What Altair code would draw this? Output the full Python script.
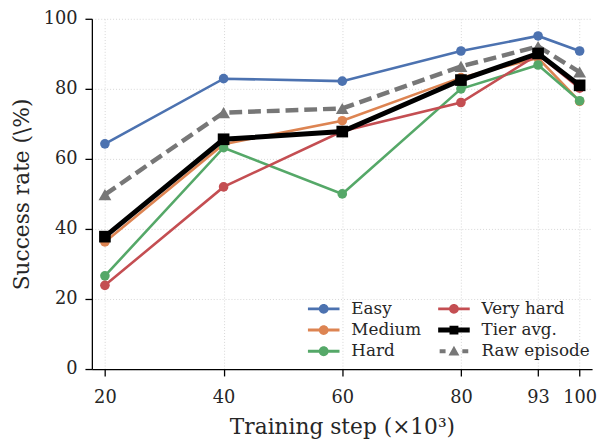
import altair as alt
import pandas as pd

# ---- data ----
steps = [20, 40, 60, 80, 93, 100]
easy = [64.3, 82.9, 82.2, 90.8, 95.1, 90.8]
medium = [36.3, 64.2, 70.9, 83.2, 88.8, 76.4]
hard = [26.6, 63.2, 50.0, 80.0, 86.8, 76.6]
very_hard = [23.9, 52.0, 67.9, 76.1, 89.8, 80.2]
tier_avg = [37.8, 65.6, 67.8, 82.5, 90.1, 81.0]
raw_episode = [49.8, 73.2, 74.4, 86.4, 92.1, 84.8]

series_names = ["Easy", "Medium", "Hard", "Very hard", "Tier avg.", "Raw episode"]
series_values = [easy, medium, hard, very_hard, tier_avg, raw_episode]
x_ticks = [20, 40, 60, 80, 93, 100]
y_ticks = [0, 20, 40, 60, 80, 100]

# ---- styles ----
colors = {"Easy": "#4C72B0", "Medium": "#DD8452", "Hard": "#55A868",
          "Very hard": "#C44E52", "Tier avg.": "#000000", "Raw episode": "#777777"}
line_w = {"Easy": 2.6, "Medium": 2.6, "Hard": 2.6, "Very hard": 2.6,
          "Tier avg.": 5, "Raw episode": 4.5}
shapes = {"Easy": "circle", "Medium": "circle", "Hard": "circle", "Very hard": "circle",
          "Tier avg.": "square", "Raw episode": "triangle-up"}
sizes = {"Easy": 95, "Medium": 95, "Hard": 95, "Very hard": 95,
         "Tier avg.": 140, "Raw episode": 170}
draw_order = ["Easy", "Medium", "Hard", "Very hard", "Raw episode", "Tier avg."]

circ_path = ("M-1.6,-0.15H-0.4V0.15H-1.6Z M0.4,-0.15H1.6V0.15H0.4Z "
             "M-0.5,0A0.5,0.5 0 1,1 0.5,0A0.5,0.5 0 1,1 -0.5,0Z")
sq_path = "M-1.6,-0.25H1.6V0.25H-1.6Z M-0.45,-0.45H0.45V0.45H-0.45Z"
tri_path = ("M-1.45,-0.2H-0.85V0.2H-1.45Z M0.85,-0.2H1.45V0.2H0.85Z "
            "M0,-0.55L0.55,0.42L-0.55,0.42Z")
legend_paths = {"Easy": circ_path, "Medium": circ_path, "Hard": circ_path,
                "Very hard": circ_path, "Tier avg.": sq_path, "Raw episode": tri_path}
legend_order = series_names

rows = []
for name, vals in zip(series_names, series_values):
    for s, v in zip(steps, vals):
        rows.append({"step": s, "value": v, "series": name})
df = pd.DataFrame(rows)

x_enc = alt.X("step:Q",
              scale=alt.Scale(domain=[17.8, 102.1], nice=False, zero=False),
              axis=alt.Axis(values=x_ticks, format="d", labelFlush=False, labelOverlap=False,
                            title="Training step (×10³)"))
y_enc = alt.Y("value:Q",
              scale=alt.Scale(domain=[0, 100], nice=False),
              axis=alt.Axis(values=y_ticks, format="d", title="Success rate (\\%)"))

base = alt.Chart(df)
layers = []
for name in draw_order:
    sub = base.transform_filter(alt.datum.series == name)
    mk = dict(color=colors[name], strokeWidth=line_w[name])
    if name == "Raw episode":
        mk["strokeDash"] = [13, 6]
    layers.append(sub.mark_line(**mk).encode(x=x_enc, y=y_enc))
    layers.append(sub.mark_point(filled=True, opacity=1, shape=shapes[name],
                                 size=sizes[name], color=colors[name]).encode(x=x_enc, y=y_enc))

leg = alt.Legend(title=None, orient="none", legendX=225, legendY=284, columns=2,
                 symbolSize=400, symbolStrokeWidth=0, symbolOpacity=1,
                 labelFontSize=17, labelOffset=18, rowPadding=3.5, columnPadding=17,
                 padding=0, labelColor="#262626")
legend_layer = base.transform_filter(alt.datum.value < -1).mark_point(filled=True, opacity=1).encode(
    x=x_enc, y=y_enc,
    color=alt.Color("series:N", scale=alt.Scale(domain=legend_order,
                                                range=[colors[n] for n in legend_order]), legend=leg),
    shape=alt.Shape("series:N", scale=alt.Scale(domain=legend_order,
                                                range=[legend_paths[n] for n in legend_order]), legend=leg),
)

chart = alt.layer(*layers, legend_layer).properties(
    width=507, height=355,
    padding={"left": 85, "top": 8, "right": 6, "bottom": 70},
    autosize=alt.AutoSizeParams(type="none"),
).configure(font="DejaVu Serif", background="white").configure_view(stroke=None).configure_axis(
    domainColor="#000000", domainWidth=1.3, tickColor="#000000", tickWidth=1.3, tickSize=7,
    labelFontSize=18, labelColor="#262626", titleFontSize=22, titleColor="#262626",
    titleFontWeight="normal", gridColor="#cccccc", gridDash=[1, 2], gridWidth=0.8,
).configure_axisX(labelPadding=13, titlePadding=10).configure_axisY(labelPadding=8, titlePadding=10)

chart.save("out.html", embed_options={"renderer": "svg", "actions": False})
